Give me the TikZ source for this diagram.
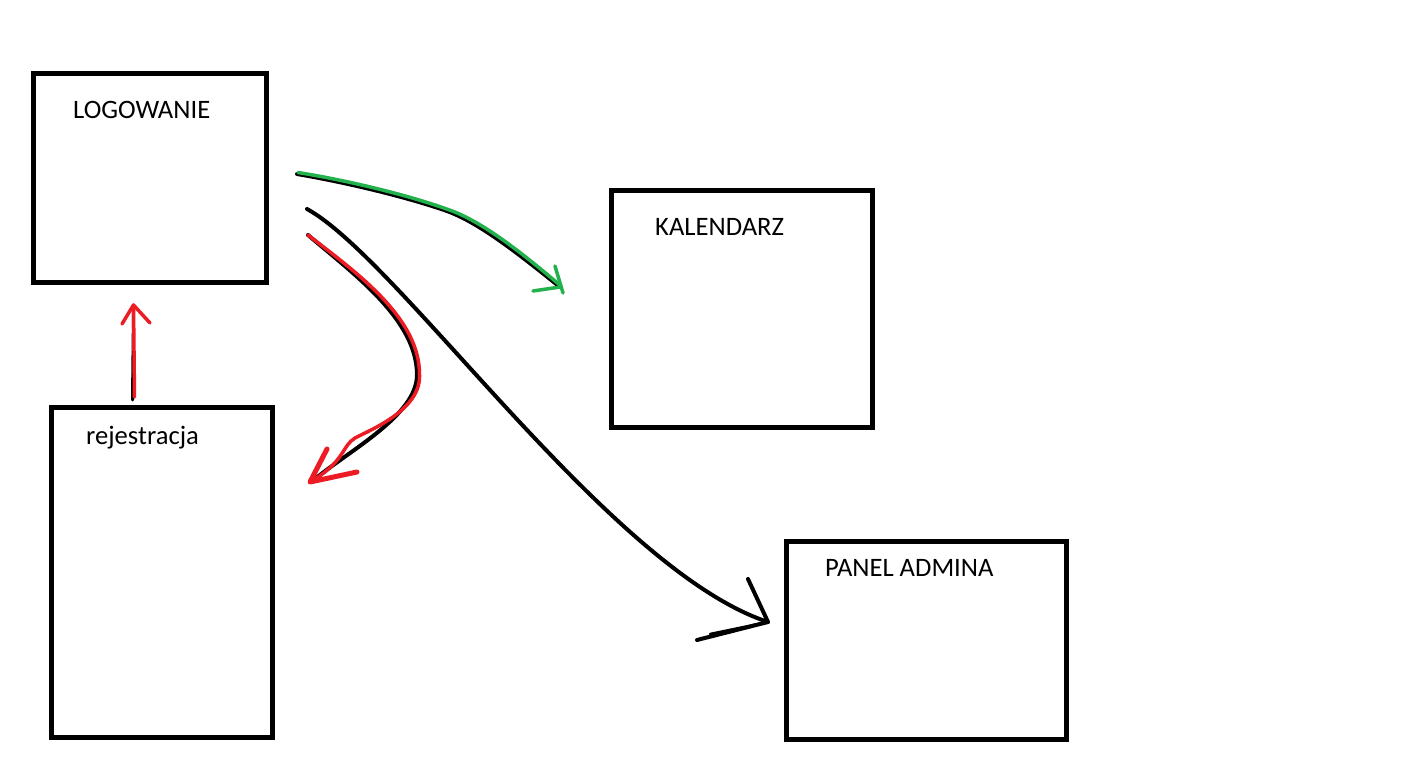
\documentclass[tikz,border=0pt]{standalone}
\usepackage{fontspec}
\setmainfont{Carlito}
\definecolor{pgreen}{HTML}{22B14C}
\definecolor{pred}{HTML}{ED1C24}
\tikzset{
  box/.style={draw=black, line width=5pt, inner sep=0pt, outer sep=0pt, anchor=north west},
  lbl/.style={anchor=base west, inner sep=0pt, font=\fontsize{26.6}{32}\selectfont},
  ink/.style={line width=4pt, line cap=round, line join=round},
  inkthin/.style={line width=3.5pt, line cap=round, line join=round},
}
\begin{document}
\begin{tikzpicture}[x=1pt,y=-1pt]
\useasboundingbox (0,0) rectangle (1421,778);
\fill[white] (0,0) rectangle (1421,778);
% boxes
\node[box, minimum width=232.5pt, minimum height=208.5pt] (logbox) at (33.5,74) {};
\node[box, minimum width=261.5pt, minimum height=236.5pt] (kalbox) at (611,191) {};
\node[box, minimum width=221.5pt, minimum height=330.5pt] (regbox) at (51,407) {};
\node[box, minimum width=280pt, minimum height=198pt] (admbox) at (786,541) {};
% labels
\node[lbl] (logtxt) at (73,118.3) {LOGOWANIE};
\node[lbl] (kaltxt) at (655,235) {KALENDARZ};
\node[lbl] (admtxt) at (825,576) {PANEL ADMINA};
\node[lbl] (regtxt) at (86,444.3) {rejestracja};
% connector end points
\coordinate (gs) at (297,174);
\coordinate (gm) at (447,211);
\coordinate (gt) at (560,287);
\coordinate (bs) at (307,209);
\coordinate (bt) at (768,622);
\coordinate (rs) at (308,235);
\coordinate (rm) at (417,375);
\coordinate (rt) at (315,479);
\coordinate (us) at (132.5,400);
\coordinate (ut) at (133.5,305);
% green arrow (login -> calendar)
\draw[ink] (gs) .. controls (350,183) and (410,198) .. (gm) .. controls (480,223) and (520,255) .. (gt);
\draw[inkthin, pgreen] ([shift={(1,-1.5)}]gs) .. controls (351,181) and (411,196) .. ([shift={(1,-1.5)}]gm) .. controls (482,221) and (522,253) .. ([shift={(1,-1)}]gt);
\draw[inkthin, pgreen] (555,266) -- (563,293);
\draw[inkthin, pgreen] (533,291) -- (gt);
% black arrow (login -> admin panel)
\draw[ink] (bs) .. controls (400,260) and (610,570) .. (bt);
\draw[ink] (748,579) -- (bt) -- (697,640);
\draw[line width=2.5pt, line cap=round] (bt) -- (710,634);
% red arrow (login -> registration)
\draw[ink] (rs) .. controls (355,275) and (417,320) .. (rm) .. controls (417,415) and (350,450) .. (rt);
\draw[inkthin, pred] (rs) .. controls (357,273) and (420,318) .. ([shift={(2.5,0)}]rm) .. controls (421,410) and (370,430) .. (355,438) .. controls (342,446) and (345,460) .. (rt);
\draw[line width=5pt, pred, line cap=round, line join=round] (327,449) -- (310,482) -- (357,472);
% red arrow (registration -> login)
\draw[line width=3pt, line cap=round] (us) -- ([yshift=-6]ut);
\draw[inkthin, pred] ([xshift=2,yshift=3]us) -- (ut);
\draw[inkthin, pred] (122,324) -- (ut) -- (150,323);
\end{tikzpicture}
\end{document}
